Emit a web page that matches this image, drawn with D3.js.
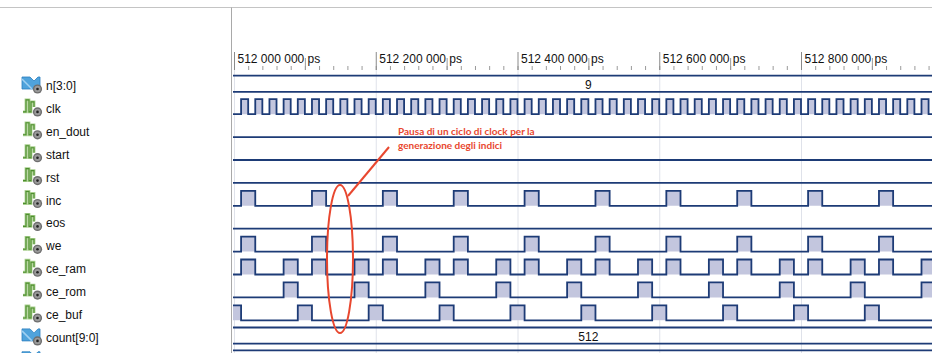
<!DOCTYPE html>
<html>
<head>
<meta charset="utf-8">
<script src="https://cdn.jsdelivr.net/npm/d3@7/dist/d3.min.js"></script>
<style>
  html, body { margin: 0; padding: 0; background: #fff; }
  svg { display: block; }
</style>
</head>
<body>
<svg id="chart" width="932" height="353"></svg>
<script>
// ---------------- DATA (times in ns, offset from 512 000 000 ps) ----------------
const signals = ["n[3:0]", "clk", "en_dout", "start", "rst", "inc", "eos", "we", "ce_ram", "ce_rom", "ce_buf", "count[9:0]"];
const kinds   = ["bus", "bit", "bit", "bit", "bit", "bit", "bit", "bit", "bit", "bit", "bit", "bus"];
const busValues = { "n[3:0]": "9", "count[9:0]": "512" };

const tickLabels = ["512 000 000 ps", "512 200 000 ps", "512 400 000 ps", "512 600 000 ps", "512 800 000 ps"];
const majorTicks = [0, 200, 400, 600, 800];
const midTicks   = [100, 300, 500, 700, 900];

const clkRise = [10,30,50,70,90,110,130,150,170,190,210,230,250,270,290,310,330,350,370,390,
                 410,430,450,470,490,510,530,550,570,590,610,630,650,670,690,710,730,750,770,790,
                 810,830,850,870,890,910,930,950,970];
const clkHigh = 10;
const incRise   = [10,110,210,310,410,510,610,710,810,910];
const weRise    = [10,110,210,310,410,510,610,710,810,910];
const ceRamRise = [10,70,110,170,210,270,310,370,410,470,510,570,610,670,710,770,810,870,910,970];
const ceRomRise = [70,170,270,370,470,570,670,770,870,970];
const ceBufRise = [-10,90,190,290,390,490,590,690,790,890];
const pulseHigh = 20;

const pulses = {
  "clk":    { rises: clkRise,   width: clkHigh },
  "en_dout":{ rises: [],        width: pulseHigh },
  "start":  { rises: [],        width: pulseHigh },
  "rst":    { rises: [],        width: pulseHigh },
  "inc":    { rises: incRise,   width: pulseHigh },
  "eos":    { rises: [],        width: pulseHigh },
  "we":     { rises: weRise,    width: pulseHigh },
  "ce_ram": { rises: ceRamRise, width: pulseHigh },
  "ce_rom": { rises: ceRomRise, width: pulseHigh },
  "ce_buf": { rises: ceBufRise, width: pulseHigh }
};

const noteLines = ["Pausa di un ciclo di clock per la", "generazione degli indici"];

// ---------------- LAYOUT ----------------
const W = 932, H = 353;
const svg = d3.select("#chart");
const x = d3.scaleLinear().domain([0, 1000]).range([234, 942.75]);
const pitch = 22.9;
const rowIdx = d3.scaleLinear().domain([0, 1]).range([0, pitch]);
const navy = "#1d3b76", fillC = "#c3c6de";
const sans = "'Liberation Sans', Arial, sans-serif";

svg.append("rect").attr("width", W).attr("height", H).attr("fill", "#fff");

svg.append("defs").append("clipPath").attr("id", "wclip")
  .append("rect").attr("x", 233).attr("y", 0).attr("width", W - 233).attr("height", H);

// frame lines
svg.append("line").attr("x1", 0).attr("x2", W).attr("y1", 7.5).attr("y2", 7.5)
  .attr("stroke", "#c4c4c4").attr("stroke-width", 1);
svg.append("line").attr("x1", 231.5).attr("x2", 231.5).attr("y1", 7.5).attr("y2", H)
  .attr("stroke", "#a9a9a9").attr("stroke-width", 1);

// grid lines
svg.append("g").selectAll("line").data(majorTicks).join("line")
  .attr("x1", d => x(d) + 0.5).attr("x2", d => x(d) + 0.5)
  .attr("y1", 70).attr("y2", H)
  .attr("stroke", "#dfe2ea").attr("stroke-width", 1);

// axis ticks (clip on an untransformed wrapper)
const axWrap = svg.append("g").attr("clip-path", "url(#wclip)");
const axG = axWrap.append("g").attr("transform", "translate(0,70)");
axG.append("g").call(d3.axisTop(x).tickValues(d3.range(0, 1000, 20)).tickSize(4).tickFormat(""))
  .call(g => g.select(".domain").remove())
  .call(g => g.selectAll("line").attr("stroke", "#9a9a9a"));
axG.append("g").call(d3.axisTop(x).tickValues(midTicks).tickSize(12).tickFormat(""))
  .call(g => g.select(".domain").remove())
  .call(g => g.selectAll("line").attr("stroke", "#9a9a9a"));
axG.append("g").call(d3.axisTop(x).tickValues(majorTicks).tickSize(18).tickFormat((d, i) => tickLabels[i]))
  .call(g => g.select(".domain").remove())
  .call(g => g.selectAll("line").attr("stroke", "#8a8a8a"))
  .call(g => g.selectAll("text")
      .attr("text-anchor", "start").attr("x", 3).attr("y", -7).attr("dy", null)
      .attr("fill", "#111").style("font-family", sans).style("font-size", "12px"));

// ---------------- WAVEFORMS ----------------
const waveG = svg.append("g").attr("clip-path", "url(#wclip)");

function busRow(i, value) {
  const top = 75.6 + rowIdx(i), bot = 91.8 + rowIdx(i);
  waveG.append("line").attr("x1", x(-50)).attr("x2", x(1100)).attr("y1", top).attr("y2", top)
    .attr("stroke", navy).attr("stroke-width", 1.8);
  if (value !== undefined) {
    waveG.append("line").attr("x1", x(-50)).attr("x2", x(1100)).attr("y1", bot).attr("y2", bot)
      .attr("stroke", navy).attr("stroke-width", 1.8);
    waveG.append("text").attr("x", x(500)).attr("y", 88.6 + rowIdx(i))
      .attr("text-anchor", "middle").attr("fill", "#111")
      .style("font-family", sans).style("font-size", "12px")
      .text(value);
  }
}

function bitRow(i, spec) {
  const low = 91.3 + rowIdx(i), high = low - 15;
  const pts = [[-50, 0]];
  spec.rises.forEach(r => { pts.push([r, 0], [r, 1], [r + spec.width, 1], [r + spec.width, 0]); });
  pts.push([1100, 0]);
  const yl = d => d[1] ? high : low;
  waveG.append("path").datum(pts)
    .attr("d", d3.area().x(d => x(d[0])).y0(low).y1(yl))
    .attr("fill", fillC);
  waveG.append("path").datum(pts)
    .attr("d", d3.line().x(d => x(d[0])).y(yl))
    .attr("fill", "none").attr("stroke", navy).attr("stroke-width", 1.8).attr("stroke-linejoin", "miter");
}

signals.forEach((s, i) => {
  if (kinds[i] === "bus") busRow(i, busValues[s]);
  else bitRow(i, pulses[s]);
});
busRow(12); // partially visible next row

// ---------------- NAMES + ICONS ----------------
const nameG = svg.append("g");
function bitIcon(g, by) {
  const y0 = by - 14;
  const p = `M23,${y0 + 13} L26,${y0 + 13} L26,${y0 + 1} L29,${y0 + 1} L29,${y0 + 13} L31,${y0 + 13} L31,${y0 + 3} L34,${y0 + 3} L34,${y0 + 8}`;
  g.append("path").attr("d", p).attr("fill", "none").attr("stroke", "#a9cf8e").attr("stroke-width", 2.8);
  g.append("path").attr("d", p).attr("fill", "none").attr("stroke", "#4e8f2f").attr("stroke-width", 1.1);
}
function busIcon(g, by) {
  const y0 = by - 13;
  g.append("path").attr("d", `M22,${y0} L30,${y0} L34,${y0 + 4} L38,${y0} L40,${y0} L40,${y0 + 12} L22,${y0 + 12} Z`)
    .attr("fill", "#4fa3dc").attr("stroke", "#2c7fbf").attr("stroke-width", 0.8);
  g.append("path").attr("d", `M22,${y0 + 2} L32,${y0 + 12}`).attr("stroke", "#9fd0f2").attr("stroke-width", 1.5);
}
function knob(g, by) {
  g.append("circle").attr("cx", 37.5).attr("cy", by - 1).attr("r", 4.6).attr("fill", "#6e6e6e");
  g.append("circle").attr("cx", 37.5).attr("cy", by - 1).attr("r", 3.2).attr("fill", "#9a9a9a");
  g.append("circle").attr("cx", 37.5).attr("cy", by - 1).attr("r", 1.3).attr("fill", "#222");
}
signals.forEach((s, i) => {
  const by = 90 + rowIdx(i);
  if (kinds[i] === "bus") busIcon(nameG, by); else bitIcon(nameG, by);
  knob(nameG, by);
  nameG.append("text").attr("x", 46).attr("y", by).attr("fill", "#111")
    .style("font-family", sans).style("font-size", "12px")
    .text(s);
});
busIcon(nameG, 90 + rowIdx(12));

// ---------------- ANNOTATION ----------------
const red = "#e8472f";
svg.append("ellipse").attr("cx", 340).attr("cy", 259).attr("rx", 13).attr("ry", 74)
  .attr("fill", "none").attr("stroke", red).attr("stroke-width", 2);
svg.append("line").attr("x1", 348).attr("y1", 196).attr("x2", 389).attr("y2", 147)
  .attr("stroke", red).attr("stroke-width", 2);
svg.append("g").selectAll("text").data(noteLines).join("text")
  .attr("x", 398).attr("y", (d, i) => 135 + i * 13.5)
  .attr("fill", red).style("font-family", "Lato, sans-serif").style("font-weight", "bold")
  .style("font-size", "10px")
  .text(d => d);
</script>
</body>
</html>
